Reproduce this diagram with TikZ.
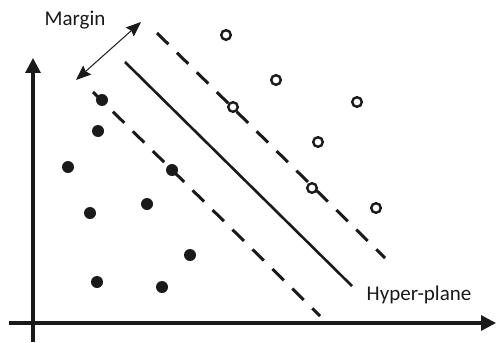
\documentclass[tikz,border=0pt]{standalone}
\usepackage{fontspec}
\setmainfont{Carlito}
\usetikzlibrary{arrows.meta}
\definecolor{ink}{HTML}{1A1A1A}
\begin{document}
\begin{tikzpicture}[x=0.5pt,y=-0.5pt,
  axisline/.style={draw=ink,line width=1.6pt,-{Triangle[length=7.5pt,width=7.5pt]}},
  dashline/.style={draw=ink,line width=1.5pt,dash pattern=on 8pt off 6pt},
  solidline/.style={draw=ink,line width=1.3pt},
  marginarrow/.style={draw=ink,line width=0.5pt,{Stealth[length=7.5pt,width=6pt,inset=1pt]}-{Stealth[length=7.5pt,width=6pt,inset=1pt]}},
  fullpt/.style={circle,fill=ink,inner sep=0pt,minimum size=6pt},
  openpt/.style={circle,draw=ink,fill=white,line width=1.2pt,inner sep=0pt,minimum size=4.8pt},
  lbl/.style={text=ink,font=\fontsize{10.5}{12}\selectfont,inner sep=0pt}
]
\useasboundingbox (0,0) rectangle (496,342);
% axes
\coordinate (yb) at (33,342);
\coordinate (yt) at (33,58);
\coordinate (xl) at (9,323);
\coordinate (xr) at (496,323);
\draw[axisline] (yb) -- (yt);
\draw[axisline] (xl) -- (xr);
% lines
\coordinate (ua) at (157,33);
\coordinate (ub) at (385,258);
\coordinate (sa) at (125,62);
\coordinate (sb) at (352,286);
\coordinate (la) at (93,92);
\coordinate (lb) at (320,316);
\draw[dashline] (ua) -- (ub);
\draw[solidline] (sa) -- (sb);
\draw[dashline] (la) -- (lb);
% margin arrow
\coordinate (ma) at (141,22);
\coordinate (mb) at (76,80);
\draw[marginarrow] (mb) -- (ma);
% filled points
\node[fullpt] (f1) at (102,100) {};
\node[fullpt] (f2) at (98,131) {};
\node[fullpt] (f3) at (68,167) {};
\node[fullpt] (f4) at (172,170) {};
\node[fullpt] (f5) at (90,213) {};
\node[fullpt] (f6) at (147,204) {};
\node[fullpt] (f7) at (190,255) {};
\node[fullpt] (f8) at (97,282) {};
\node[fullpt] (f9) at (162,287) {};
% open points
\node[openpt] (o1) at (226,35) {};
\node[openpt] (o2) at (276,80) {};
\node[openpt] (o3) at (357,102) {};
\node[openpt] (o4) at (233,107) {};
\node[openpt] (o5) at (318,142) {};
\node[openpt] (o6) at (312,188) {};
\node[openpt] (o7) at (376,208) {};
% labels
\node[lbl] (margin) at (75,20) {Margin};
\node[lbl] (hyper) at (419,295) {Hyper-plane};
\end{tikzpicture}
\end{document}
